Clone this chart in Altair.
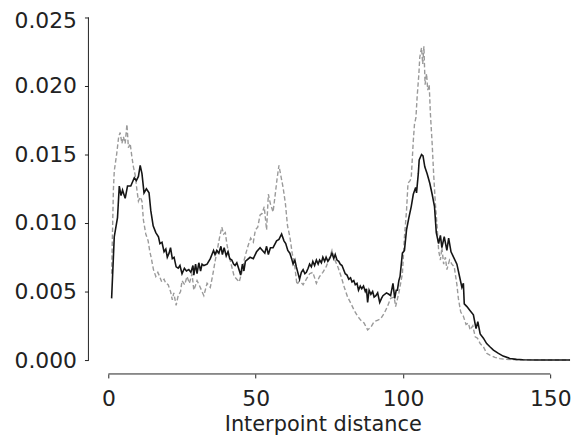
import altair as alt
import pandas as pd

# Solid black series
black_x = [1.1, 2.0, 3.1, 3.7, 4.3, 4.8, 5.7, 6.5, 7.6, 8.8, 9.5, 10.2, 10.8, 11.4, 12.1, 12.9,
           13.8, 14.4, 15.2, 16.1, 17.0, 17.5, 18.2, 18.9, 19.5, 20.0, 20.6, 21.1, 21.7, 22.3,
           23.0, 23.7, 24.3, 25.0, 25.8, 26.5, 27.3, 28.0, 28.7, 29.0, 29.6, 30.1, 30.7, 31.3,
           31.8, 32.4, 33.5, 34.6, 35.7, 36.2, 36.8, 37.5, 38.2, 38.7, 39.3, 40.0, 40.6, 41.2,
           41.9, 42.5, 43.0, 43.6, 44.2, 44.9, 45.5, 46.0, 46.5, 47.0, 48.1, 49.2, 50.3, 51.5,
           52.3, 53.1, 53.7, 54.3, 55.0, 55.9, 57.1, 57.9, 58.8, 59.6, 60.2, 60.9, 61.6, 62.2,
           62.7, 63.3, 63.8, 64.9, 65.5, 66.1, 66.7, 67.2, 67.8, 68.3, 68.9, 69.4, 70.0, 70.6,
           71.2, 71.7, 72.3, 72.8, 73.4, 73.9, 74.5, 75.1, 75.9, 76.5, 77.0, 77.6, 78.2, 78.7,
           79.3, 80.4, 81.0, 81.6, 82.2, 82.7, 83.3, 83.8, 84.4, 84.9, 85.5, 86.0, 86.6, 87.2,
           87.6, 88.0, 88.5, 89.1, 89.7, 90.2, 90.8, 91.4, 92.1, 92.7, 93.2, 94.4, 95.2, 95.8,
           96.6, 97.2, 97.7, 98.1, 98.6, 99.0, 99.8, 100.5, 101.2, 102.0, 102.8, 103.5, 104.3,
           104.6, 105.2, 105.5, 106.3, 106.8, 107.4, 108.2, 109.1, 109.9, 110.7, 111.3, 112.1,
           112.7, 113.2, 114.0, 114.9, 115.5, 116.3, 117.2, 118.3, 119.2, 120.0, 120.5, 120.8,
           121.7, 122.8, 123.9, 124.8, 125.4, 126.2, 127.3, 128.4, 129.5, 130.7, 132.4, 134.0,
           136.3, 138.5, 140.7, 145.0, 150.0, 155.0, 160.0]
black_y = [4.5, 9.0, 10.4, 12.7, 12.0, 12.4, 11.8, 12.7, 12.7, 13.3, 13.1, 13.4, 14.2, 13.6, 12.2, 12.5,
           12.2, 10.9, 9.8, 9.3, 9.0, 8.5, 8.6, 7.9, 8.1, 7.5, 7.8, 8.2, 7.4, 7.5,
           6.8, 6.7, 6.9, 6.3, 6.7, 6.5, 6.6, 6.4, 6.9, 6.2, 7.0, 6.3, 7.1, 6.5,
           7.0, 6.9, 7.0, 7.4, 8.0, 7.7, 8.0, 7.8, 8.3, 7.7, 8.2, 7.6, 7.9, 7.4,
           7.3, 7.0, 6.9, 7.1, 6.7, 6.2, 7.0, 6.5, 7.2, 7.3, 7.5, 7.4, 7.9, 8.2,
           8.0, 7.8, 8.3, 7.7, 8.2, 8.2, 8.7, 8.8, 9.2, 8.7, 8.5, 8.0, 7.8, 7.4,
           7.0, 7.3, 6.8, 5.9, 6.4, 6.6, 6.3, 6.4, 6.7, 7.0, 6.8, 7.2, 6.9, 7.3,
           7.0, 7.3, 7.1, 7.5, 7.2, 7.5, 7.2, 7.4, 7.8, 7.4, 7.7, 7.3, 7.2, 7.0,
           6.9, 6.3, 6.2, 5.9, 6.0, 5.7, 5.8, 5.5, 5.6, 5.1, 5.4, 5.2, 5.4, 5.0,
           5.2, 4.2, 5.1, 4.8, 5.0, 4.6, 4.7, 4.9, 4.2, 4.5, 4.7, 4.9, 4.8, 4.7,
           5.6, 4.5, 5.1, 5.1, 5.8, 6.1, 7.8, 8.0, 9.5, 10.4, 11.2, 12.1, 12.6,
           12.2, 13.6, 14.6, 15.0, 14.9, 14.1, 13.6, 12.9, 12.1, 11.2, 9.3, 8.5,
           9.1, 8.2, 9.0, 8.0, 8.9, 7.9, 7.5, 7.0, 6.1, 5.3, 5.6, 4.1,
           3.9, 3.6, 3.3, 2.3, 2.8, 1.9, 1.6, 1.2, 0.97, 0.73, 0.49, 0.29,
           0.12, 0.05, 0.02, 0.01, 0.005, 0.002, 0.0]

# Dashed grey series
gray_x = [1.1, 1.7, 2.0, 2.8, 3.5, 4.0, 4.6, 5.1, 5.7, 6.3, 6.8, 7.4, 8.0, 8.5, 9.1, 9.7, 10.2,
          10.8, 11.4, 11.9, 12.7, 13.5, 14.0, 14.6, 15.3, 16.1, 16.8, 17.4, 18.1, 18.9, 19.5,
          20.3, 21.1, 21.7, 22.2, 23.0, 23.7, 24.5, 25.0, 25.9, 26.7, 27.5, 28.4, 29.0, 29.5,
          30.1, 31.2, 32.4, 33.5, 34.6, 35.5, 36.3, 37.1, 37.7, 38.5, 39.1, 39.7, 40.2, 41.1,
          41.9, 42.7, 43.6, 44.4, 45.3, 46.1, 46.7, 47.5, 48.3, 49.2, 49.9, 50.7, 51.5, 52.2,
          52.9, 53.7, 54.3, 55.0, 55.9, 56.7, 57.3, 57.9, 58.5, 59.3, 60.1, 60.8, 61.6, 62.4,
          63.3, 64.0, 64.9, 66.1, 67.2, 68.3, 69.4, 70.6, 71.7, 72.8, 73.9, 75.1, 75.9, 76.7,
          77.9, 79.0, 80.1, 81.2, 82.4, 83.5, 84.6, 85.7, 86.8, 88.0, 89.1, 90.2, 91.3, 92.4,
          93.6, 94.7, 95.8, 97.0, 97.5, 98.6, 99.8, 100.5, 101.2, 101.7, 102.4, 102.8, 103.5,
          103.9, 104.4, 104.8, 105.4, 105.7, 106.3, 106.7, 107.1, 107.5, 108.0, 108.4, 108.9,
          109.3, 109.9, 110.4, 111.0, 111.6, 112.1, 112.7, 113.2, 113.8, 114.4, 114.9, 115.8,
          116.6, 117.4, 118.3, 118.8, 119.6, 120.5, 121.4, 122.2, 122.8, 123.7, 124.5, 125.3,
          126.2, 127.3, 128.4, 129.5, 131.2, 132.9, 135.0, 140.0, 150.0, 160.0]
gray_y = [6.3, 12.4, 13.8, 15.0, 16.3, 16.6, 15.8, 16.3, 15.8, 17.2, 15.5, 15.8, 14.8, 14.1, 13.5, 12.4, 11.6,
          11.9, 11.6, 10.2, 9.2, 8.7, 8.0, 7.4, 6.6, 6.1, 6.4, 6.1, 5.7, 5.9, 5.6,
          5.5, 5.0, 4.4, 4.9, 4.0, 4.7, 5.0, 5.8, 5.5, 6.1, 5.6, 6.3, 5.1, 5.4,
          5.8, 5.3, 4.7, 5.6, 5.3, 6.3, 7.3, 8.2, 8.9, 9.7, 9.2, 9.3, 8.5, 7.5,
          6.8, 6.1, 5.9, 5.7, 6.4, 7.3, 7.8, 8.4, 8.9, 8.6, 9.5, 9.7, 10.6, 10.7,
          11.2, 9.5, 12.1, 11.4, 10.8, 12.2, 13.3, 14.2, 13.5, 12.6, 11.4, 9.8, 9.0, 7.8,
          6.8, 5.5, 5.8, 5.5, 5.9, 6.3, 6.4, 5.6, 6.1, 6.4, 6.8, 7.5, 8.0, 7.4,
          6.8, 6.1, 5.3, 4.6, 4.1, 3.6, 3.2, 2.9, 2.7, 2.2, 2.4, 2.8, 2.9, 3.0,
          3.4, 3.9, 4.5, 4.6, 3.9, 4.9, 6.3, 9.0, 10.9, 12.9, 13.1, 13.3, 16.0,
          17.2, 17.7, 19.2, 20.9, 22.1, 22.8, 21.6, 22.9, 20.1, 20.9, 19.7, 20.1,
          18.0, 15.8, 13.6, 11.4, 9.7, 8.0, 7.3, 8.2, 7.0, 7.5, 6.6, 7.3,
          7.0, 6.8, 5.5, 4.5, 3.5, 3.2, 2.6, 2.7, 2.2, 2.5, 1.7, 1.6,
          1.2, 0.97, 0.49, 0.36, 0.2, 0.1, 0.05, 0.02, 0.005, 0.0]

x_ticks = [0, 50, 100, 150]
y_ticks = [0.0, 0.005, 0.010, 0.015, 0.020, 0.025]

black = pd.DataFrame({"d": black_x, "v": [v / 1000 for v in black_y]})
gray = pd.DataFrame({"d": gray_x, "v": [v / 1000 for v in gray_y]})
xline = pd.DataFrame({"a": [x_ticks[0]], "b": [x_ticks[-1]]})
yline = pd.DataFrame({"a": [y_ticks[0]], "b": [y_ticks[-1]]})

W, H = 485, 367
xs = alt.Scale(domain=[-6.77, 156.7], nice=False, zero=False)
ys = alt.Scale(domain=[-0.001014, 0.02558], nice=False, zero=False)

xaxis = alt.Axis(values=x_ticks, title="Interpoint distance", format="d",
                 titleX=236, titleY=57, titleAlign="center", titleBaseline="alphabetic",
                 titleFont="DejaVu Sans", titleFontSize=21, titleFontWeight="normal",
                 titleColor="#222222", labelPadding=11)
yaxis = alt.Axis(values=y_ticks, title=None, format=".3f", labelPadding=8,
                 labelOffset={"expr": "datum.value > 0.024 ? 3 : 0"})

gray_line = alt.Chart(gray).mark_line(
    color="#9a9a9a", strokeWidth=1.4, strokeDash=[4.5, 2.5], clip=True
).encode(x=alt.X("d:Q", scale=xs, axis=xaxis), y=alt.Y("v:Q", scale=ys, axis=yaxis))

black_line = alt.Chart(black).mark_line(
    color="#151515", strokeWidth=1.6, clip=True
).encode(x=alt.X("d:Q", scale=xs), y=alt.Y("v:Q", scale=ys))

x_domain = alt.Chart(xline).mark_rule(color="#222222", strokeWidth=1).encode(
    x=alt.X("a:Q", scale=xs), x2="b:Q", y=alt.value(H))
y_domain = alt.Chart(yline).mark_rule(color="#222222", strokeWidth=1).encode(
    y=alt.Y("a:Q", scale=ys), y2="b:Q", x=alt.value(0))

chart = alt.layer(gray_line, black_line, x_domain, y_domain).properties(
    width=W, height=H,
    autosize=alt.AutoSizeParams(type="none"),
    padding={"left": 81, "top": 0, "right": 4, "bottom": 69},
).configure_view(stroke=None).configure_axis(
    domain=False, grid=False, ticks=True, tickSize=4, tickColor="#222222", tickWidth=1,
    labelFont="DejaVu Sans", labelFontSize=22, labelColor="#222222",
)

chart.save("out.html", embed_options={"renderer": "svg", "actions": False})
